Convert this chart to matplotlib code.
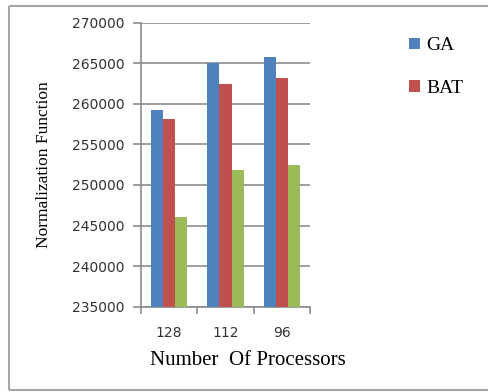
import numpy as np
import matplotlib.pyplot as plt
from matplotlib.lines import Line2D

# processors per run and the normalization function values for each method
processors = ["128", "112", "96"]
ga = [259300, 265000, 265800]
bat = [258100, 262500, 263200]
third = [246000, 251800, 252500]

colors = ["#4F81BD", "#C0504D", "#9BBB59"]
grid_col = "#8c8c8c"

fig = plt.figure(figsize=(4.89, 3.92), dpi=100)

# grey frame round the chart area: left, top and bottom edges only
fx0, fx1, fy0, fy1 = 8.5 / 489, 488 / 489, 1 - 389.5 / 392, 1 - 5.5 / 392
frame = dict(color="#a6a6a6", linewidth=1.5, transform=fig.transFigure, solid_capstyle="butt")
fig.add_artist(Line2D([fx0, fx0], [fy0, fy1], **frame))
fig.add_artist(Line2D([fx0, fx1], [fy1, fy1], **frame))
fig.add_artist(Line2D([fx0, fx1], [fy0, fy0], **frame))

ax = fig.add_axes([141 / 489, (392 - 306.7) / 392, 169 / 489, 284 / 392])

x = np.arange(len(processors))
w = 0.215
ax.bar(x - w, ga, w, color=colors[0], label="GA", zorder=3)
ax.bar(x, bat, w, color=colors[1], label="BAT", zorder=3)
ax.bar(x + w, third, w, color=colors[2], zorder=3)

ax.set_ylim(235000, 270000)
ax.set_xlim(-0.5, 2.5)
ax.set_yticks(np.arange(235000, 270001, 5000))
ax.set_yticklabels([str(v) for v in range(235000, 270001, 5000)],
                   fontsize=10, color="#333333", family="DejaVu Sans")
ax.yaxis.grid(True, color=grid_col, linewidth=1.2, zorder=0)

# category ticks sit on the boundaries between groups
ax.set_xticks([-0.5, 0.5, 1.5, 2.5])
ax.set_xticklabels([])
ax.set_xticks(x, minor=True)
ax.set_xticklabels(processors, minor=True, fontsize=10, color="#333333", family="DejaVu Sans")
ax.tick_params(axis="x", which="minor", length=0, pad=14)
ax.tick_params(axis="x", which="major", length=5, color=grid_col, width=1.2)
ax.tick_params(axis="y", length=6, color=grid_col, width=1.2, pad=6)

for side in ["top", "right"]:
    ax.spines[side].set_visible(False)
for side in ["left", "bottom"]:
    ax.spines[side].set_color(grid_col)
    ax.spines[side].set_linewidth(1.2)

ax.set_ylabel("Normalization Function", family="Liberation Serif", fontsize=12.5, labelpad=14)
ax.set_xlabel("Number  Of Processors", family="Liberation Serif", fontsize=15, labelpad=7)
ax.xaxis.set_label_coords(0.633, -0.155)

fig.legend(loc="upper left", bbox_to_anchor=(392 / 489, 1 - 20 / 392), frameon=False,
           prop={"family": "Liberation Serif", "size": 14}, handlelength=0.55,
           handleheight=0.55, handletextpad=0.3, labelspacing=1.3)

fig.savefig("out.png", dpi=100)
